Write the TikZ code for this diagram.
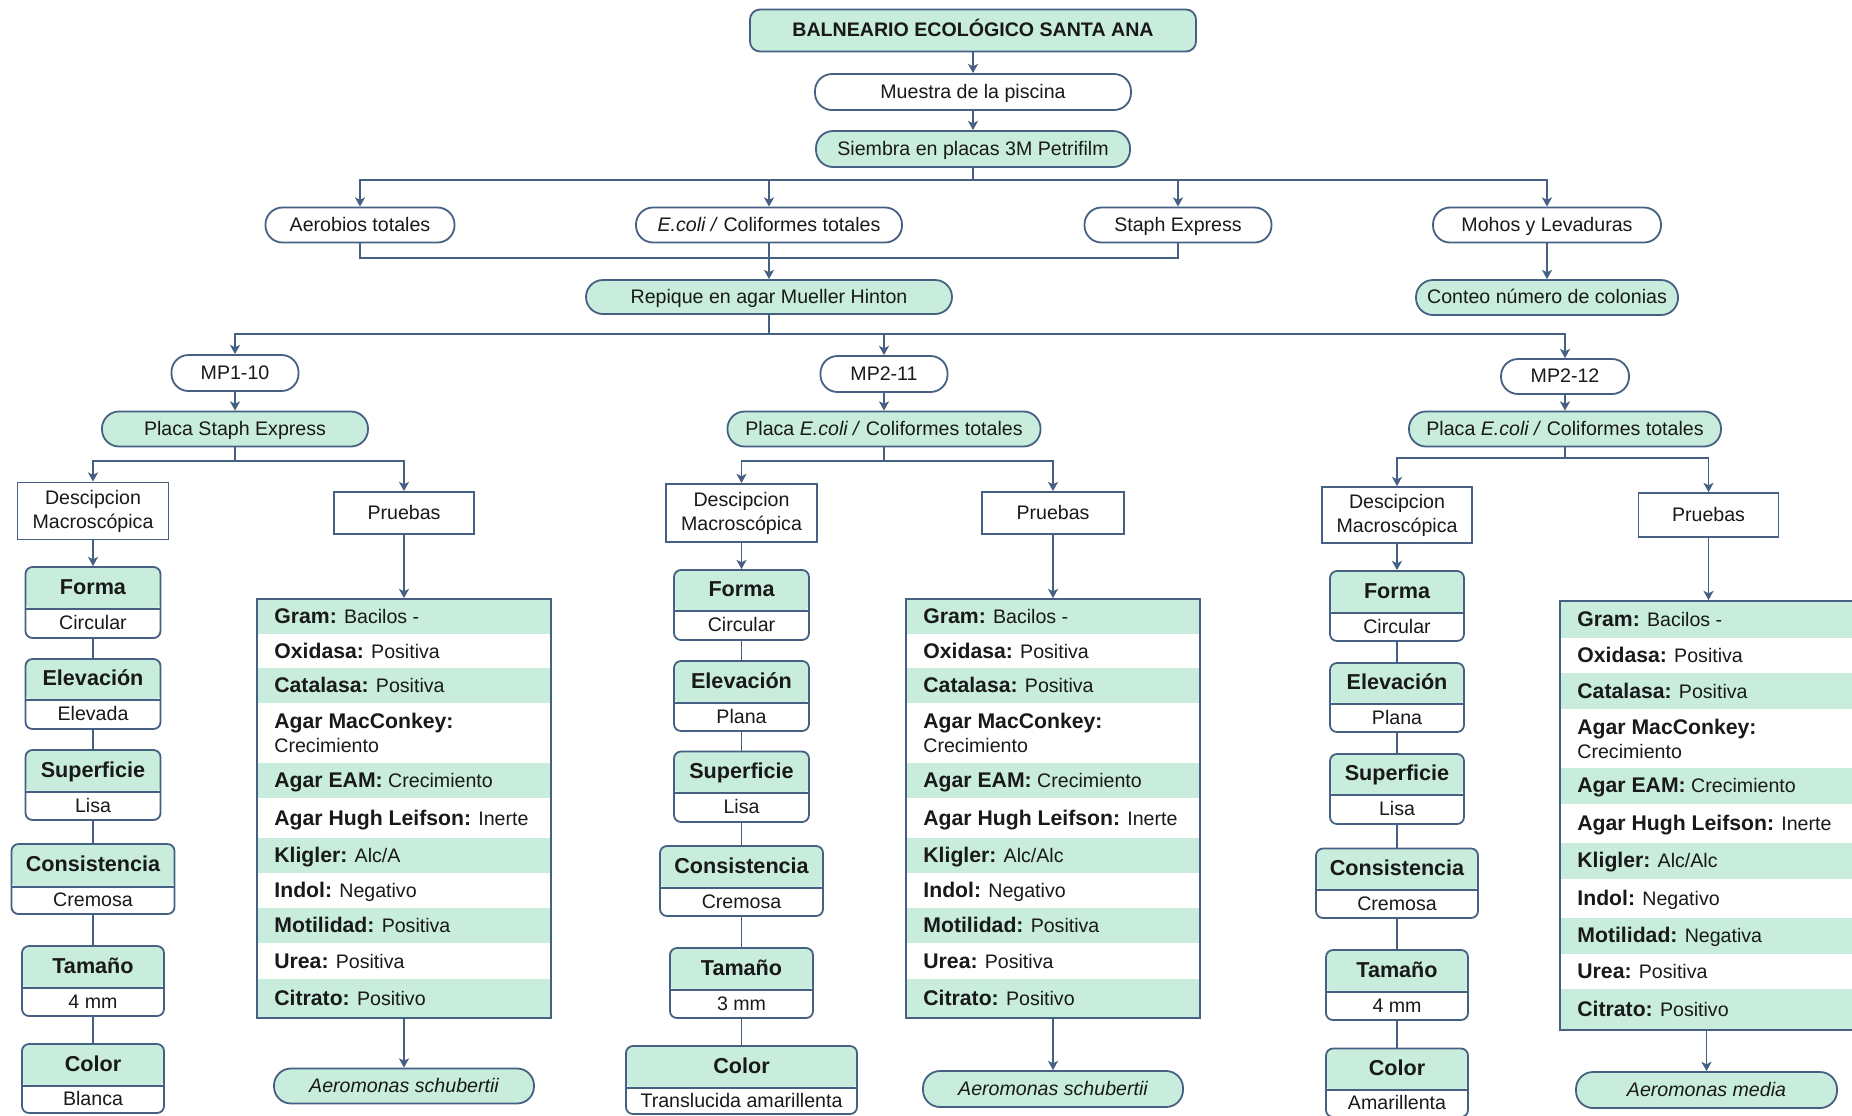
\documentclass[tikz,border=0pt]{standalone}
\usepackage{fontspec}
\setmainfont{Liberation Sans}
\usetikzlibrary{arrows.meta}
\definecolor{mint}{RGB}{200,237,221}
\definecolor{edgec}{RGB}{70,96,132}
\definecolor{txt}{RGB}{25,25,25}
\newcommand\reg{\fontsize{9.8pt}{12pt}\selectfont}
\newcommand\lb[1]{{\fontsize{10.6pt}{12pt}\selectfont\bfseries #1}}
\newcommand\hb{\fontsize{10.8pt}{12pt}\selectfont\bfseries}
\tikzset{
  txtbase/.style={inner sep=0pt, text=txt, font=\reg},
  one/.style={text height=8pt, text depth=1.6pt},
  sz/.style 2 args={minimum width=#1*0.5pt, minimum height=#2*0.5pt},
  pill/.style={txtbase, one, draw=edgec, line width=0.9pt, rounded corners=8.5pt},
  gpill/.style={pill, fill=mint},
  wpill/.style={pill, fill=white},
  sqbox/.style={txtbase, draw=edgec, line width=0.9pt, fill=white, align=center},
  ln/.style={draw=edgec, line width=0.9pt},
  arr/.style={ln, -{Stealth[length=4.6pt,width=5pt,inset=1.2pt]}},
  tbl/.style={draw=edgec, line width=0.9pt, inner sep=0pt},
}
% property box: name, cx, top, divider, bottom, width, header, value
\newcommand\propbox[8]{%
  \node[txtbase, draw=edgec, line width=0.9pt, rounded corners=3.5pt, fill=white,
    minimum width=#6*0.5pt, minimum height={(#5-#3)*0.5pt},
    path picture={\fill[mint] ([yshift=2pt]path picture bounding box.north west) rectangle ([yshift={-(#4-#3)*0.5pt}]path picture bounding box.north east);
      \draw[ln] ([yshift={-(#4-#3)*0.5pt}]path picture bounding box.north west) -- ([yshift={-(#4-#3)*0.5pt}]path picture bounding box.north east);}]
    (#1) at (#2,{(#3+#5)/2}) {};
  \node[txtbase, one, font=\hb] (#1h) at (#2,{(#3+#4)/2}) {#7};
  \node[txtbase, one] (#1v) at (#2,{(#4+#5)/2}) {#8};
}
% table row: name, xl, xr, top, bottom, fill, content
\newcommand\trow[7]{%
  \fill[#6] (#2,#4) rectangle (#3,#5);
  \node[txtbase, anchor=base west] (#1) at ({#2+17},{(#4+#5)/2+7}) {#7};
}
\newcommand\trowtwo[7]{%
  \fill[#6] (#2,#4) rectangle (#3,#5);
  \node[txtbase, anchor=west, align=left] (#1) at ({#2+17},{(#4+#5)/2}) {#7};
}
\begin{document}
\begin{tikzpicture}[x=0.5pt,y=-0.5pt]
\useasboundingbox (0,0) rectangle (1852,1115);
\fill[white] (0,0) rectangle (1852,1115);

% ---------- top chain ----------
\node[gpill, rounded corners=5pt, sz={446}{42}, font=\reg\bfseries] (title) at (973,30.5) {BALNEARIO ECOLÓGICO SANTA ANA};
\node[wpill, sz={316}{36}] (muestra) at (973,92) {Muestra de la piscina};
\node[gpill, sz={314}{36}] (siembra) at (973,149) {Siembra en placas 3M Petrifilm};

\node[wpill, sz={189}{35}] (aero) at (360,225) {Aerobios totales};
\node[wpill, sz={266}{35}] (ecoli) at (769,225) {\textit{E.coli /} Coliformes totales};
\node[wpill, sz={187}{35}] (staph) at (1178,225) {Staph Express};
\node[wpill, sz={228}{35}] (mohos) at (1547,225) {Mohos y Levaduras};

\node[gpill, sz={366}{34}] (repique) at (769,297) {Repique en agar Mueller Hinton};
\node[gpill, sz={262}{35}] (conteo) at (1547,297.5) {Conteo número de colonias};

\node[wpill, sz={127}{36}] (mp1) at (235,373) {MP1-10};
\node[wpill, sz={127}{36}] (mp2) at (884,374) {MP2-11};
\node[wpill, sz={128}{35}] (mp3) at (1565,376.5) {MP2-12};

\node[gpill, sz={266}{35}] (placa1) at (235,429) {Placa Staph Express};
\node[gpill, sz={313}{35}] (placa2) at (884,429) {Placa \textit{E.coli /} Coliformes totales};
\node[gpill, sz={312}{35}] (placa3) at (1565,429) {Placa \textit{E.coli /} Coliformes totales};

\node[sqbox, sz={151}{57}] (desc1) at (93,511) {Descipcion\\Macroscópica};
\node[sqbox, one, sz={140}{42}] (prue1) at (404,513) {Pruebas};
\node[sqbox, sz={151}{58}] (desc2) at (741.5,513) {Descipcion\\Macroscópica};
\node[sqbox, one, sz={142}{42}] (prue2) at (1053,513) {Pruebas};
\node[sqbox, sz={150}{56}] (desc3) at (1397,515) {Descipcion\\Macroscópica};
\node[sqbox, one, sz={140}{44}] (prue3) at (1708.5,515) {Pruebas};

% ---------- property boxes ----------
\propbox{forma1}{93}{567}{609}{638}{135}{Forma}{Circular}
\propbox{elev1}{93}{659}{700}{729}{135}{Elevación}{Elevada}
\propbox{sup1}{93}{750}{792}{820}{135}{Superficie}{Lisa}
\propbox{cons1}{93}{844}{887}{914}{163}{Consistencia}{Cremosa}
\propbox{tam1}{93}{946}{988}{1016}{142}{Tamaño}{4 mm}
\propbox{col1}{93}{1044}{1086}{1113}{142}{Color}{Blanca}

\propbox{forma2}{741.5}{570}{611}{640}{135}{Forma}{Circular}
\propbox{elev2}{741.5}{661}{703}{731}{135}{Elevación}{Plana}
\propbox{sup2}{741.5}{751.5}{793}{822}{135}{Superficie}{Lisa}
\propbox{cons2}{741.5}{846}{888}{916}{163}{Consistencia}{Cremosa}
\propbox{tam2}{741.5}{948}{990}{1018}{143}{Tamaño}{3 mm}
\propbox{col2}{741.5}{1046}{1088}{1114}{231}{Color}{Translucida amarillenta}

\propbox{forma3}{1397}{571}{613}{641}{134}{Forma}{Circular}
\propbox{elev3}{1397}{663}{704}{732}{134}{Elevación}{Plana}
\propbox{sup3}{1397}{754}{795}{824}{134}{Superficie}{Lisa}
\propbox{cons3}{1397}{848.5}{890}{918}{162}{Consistencia}{Cremosa}
\propbox{tam3}{1397}{950}{992}{1020}{142}{Tamaño}{4 mm}
\propbox{col3}{1397}{1048.5}{1090}{1117}{142}{Color}{Amarillenta}

% ---------- test tables ----------
\trow{t1a}{257}{551}{599}{634}{mint}{\lb{Gram:} Bacilos -}
\trow{t1b}{257}{551}{634}{668}{white}{\lb{Oxidasa:} Positiva}
\trow{t1c}{257}{551}{668}{703}{mint}{\lb{Catalasa:} Positiva}
\trowtwo{t1d}{257}{551}{703}{763}{white}{\lb{Agar MacConkey:}\\Crecimiento}
\trow{t1e}{257}{551}{763}{798}{mint}{\lb{Agar EAM:} Crecimiento}
\trow{t1f}{257}{551}{798}{838}{white}{\lb{Agar Hugh Leifson:} Inerte}
\trow{t1g}{257}{551}{838}{873}{mint}{\lb{Kligler:} Alc/A}
\trow{t1h}{257}{551}{873}{908}{white}{\lb{Indol:} Negativo}
\trow{t1i}{257}{551}{908}{943}{mint}{\lb{Motilidad:} Positiva}
\trow{t1j}{257}{551}{943}{979}{white}{\lb{Urea:} Positiva}
\trow{t1k}{257}{551}{979}{1018}{mint}{\lb{Citrato:} Positivo}
\node[tbl, sz={294}{419}] (t1) at (404,808.5) {};

\trow{t2a}{906}{1200}{599}{634}{mint}{\lb{Gram:} Bacilos -}
\trow{t2b}{906}{1200}{634}{668}{white}{\lb{Oxidasa:} Positiva}
\trow{t2c}{906}{1200}{668}{703}{mint}{\lb{Catalasa:} Positiva}
\trowtwo{t2d}{906}{1200}{703}{763}{white}{\lb{Agar MacConkey:}\\Crecimiento}
\trow{t2e}{906}{1200}{763}{798}{mint}{\lb{Agar EAM:} Crecimiento}
\trow{t2f}{906}{1200}{798}{838}{white}{\lb{Agar Hugh Leifson:} Inerte}
\trow{t2g}{906}{1200}{838}{873}{mint}{\lb{Kligler:} Alc/Alc}
\trow{t2h}{906}{1200}{873}{908}{white}{\lb{Indol:} Negativo}
\trow{t2i}{906}{1200}{908}{943}{mint}{\lb{Motilidad:} Positiva}
\trow{t2j}{906}{1200}{943}{979}{white}{\lb{Urea:} Positiva}
\trow{t2k}{906}{1200}{979}{1018}{mint}{\lb{Citrato:} Positivo}
\node[tbl, sz={294}{419}] (t2) at (1053,808.5) {};

\trow{t3a}{1560}{1853}{601}{638}{mint}{\lb{Gram:} Bacilos -}
\trow{t3b}{1560}{1853}{638}{673}{white}{\lb{Oxidasa:} Positiva}
\trow{t3c}{1560}{1853}{673}{709}{mint}{\lb{Catalasa:} Positiva}
\trowtwo{t3d}{1560}{1853}{709}{768}{white}{\lb{Agar MacConkey:}\\Crecimiento}
\trow{t3e}{1560}{1853}{768}{803.5}{mint}{\lb{Agar EAM:} Crecimiento}
\trow{t3f}{1560}{1853}{803.5}{843}{white}{\lb{Agar Hugh Leifson:} Inerte}
\trow{t3g}{1560}{1853}{843}{878.6}{mint}{\lb{Kligler:} Alc/Alc}
\trow{t3h}{1560}{1853}{878.6}{918}{white}{\lb{Indol:} Negativo}
\trow{t3i}{1560}{1853}{918}{953.6}{mint}{\lb{Motilidad:} Negativa}
\trow{t3j}{1560}{1853}{953.6}{989}{white}{\lb{Urea:} Positiva}
\trow{t3k}{1560}{1853}{989}{1030}{mint}{\lb{Citrato:} Positivo}
\node[tbl, sz={294}{429}] (t3) at (1707,815.5) {};

% ---------- results ----------
\node[gpill, sz={260}{35}, font=\reg\itshape] (r1) at (404,1086) {Aeromonas schubertii};
\node[gpill, sz={260}{36}, font=\reg\itshape] (r2) at (1053,1089) {Aeromonas schubertii};
\node[gpill, sz={261}{36}, font=\reg\itshape] (r3) at (1706.5,1090) {Aeromonas media};

% ---------- connectors ----------
\coordinate (bus1) at (0,180);
\coordinate (bus2) at (0,258);
\coordinate (bus3) at (0,334);
\coordinate (br1) at (0,461);
\coordinate (br2) at (0,461);
\coordinate (br3) at (0,458);

\draw[arr] (title.south) -- (title.south |- muestra.north);
\draw[arr] (muestra.south) -- (muestra.south |- siembra.north);
\draw[arr] (siembra.south) -- (siembra.south |- bus1) -| (aero.north);
\draw[arr] (siembra.south) -- (siembra.south |- bus1) -| (mohos.north);
\draw[arr] (ecoli.north |- bus1) -- (ecoli.north);
\draw[arr] (staph.north |- bus1) -- (staph.north);

\draw[ln] (aero.south) |- (staph.south |- bus2) -- (staph.south);
\draw[arr] (ecoli.south) -- (ecoli.south |- repique.north);
\draw[arr] (mohos.south) -- (mohos.south |- conteo.north);

\draw[arr] (repique.south) -- (repique.south |- bus3) -| (mp1.north);
\draw[arr] (repique.south) -- (repique.south |- bus3) -| (mp3.north);
\draw[arr] (mp2.north |- bus3) -- (mp2.north);

\draw[arr] (mp1.south) -- (mp1.south |- placa1.north);
\draw[arr] (mp2.south) -- (mp2.south |- placa2.north);
\draw[arr] (mp3.south) -- (mp3.south |- placa3.north);

\draw[arr] (placa1.south) -- (placa1.south |- br1) -| (desc1.north);
\draw[arr] (placa1.south) -- (placa1.south |- br1) -| (prue1.north);
\draw[arr] (placa2.south) -- (placa2.south |- br2) -| (desc2.north);
\draw[arr] (placa2.south) -- (placa2.south |- br2) -| (prue2.north);
\draw[arr] (placa3.south) -- (placa3.south |- br3) -| (desc3.north);
\draw[arr] (placa3.south) -- (placa3.south |- br3) -| (prue3.north);

\foreach \i in {1,2,3}{
  \draw[arr] (desc\i.south) -- (desc\i.south |- forma\i.north);
  \draw[ln] (forma\i.south) -- (elev\i.north);
  \draw[ln] (elev\i.south) -- (sup\i.north);
  \draw[ln] (sup\i.south) -- (cons\i.north);
  \draw[ln] (cons\i.south) -- (tam\i.north);
  \draw[ln] (tam\i.south) -- (col\i.north);
  \draw[arr] (prue\i.south) -- (prue\i.south |- t\i.north);
  \draw[arr] (r\i.north |- t\i.south) -- (r\i.north);
}
\end{tikzpicture}
\end{document}
